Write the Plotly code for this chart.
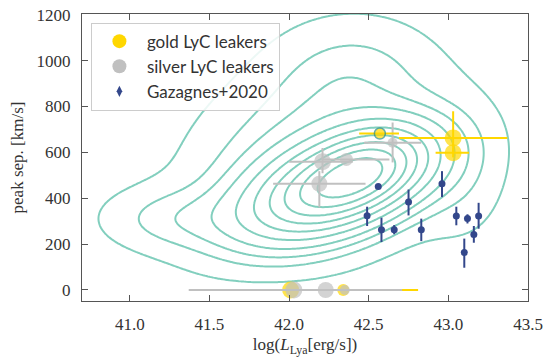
import numpy as np
import plotly.graph_objects as go

# ---------------- data ----------------
# Gazagnes+2020 sample
gz_x = [42.56, 42.49, 42.58, 42.66, 42.75, 42.83, 42.96, 43.05, 43.12, 43.19, 43.16, 43.10]
gz_y = [451, 324, 263, 263, 383, 263, 463, 322, 312, 322, 242, 163]
gz_ey_hi = [8, 39, 52, 20, 55, 48, 55, 41, 18, 58, 37, 61]
gz_ey_lo = [8, 45, 54, 20, 58, 50, 58, 40, 22, 55, 36, 66]

# gold LyC leakers
gold_x = [42.01, 42.34, 43.03, 43.03, 42.57]
gold_y = [0, 0, 663, 598, 682]
gold_ex_lo = [0.30, 0.0, 0.34, 0.11, 0.13]
gold_ex_hi = [0.80, 0.0, 0.34, 0.10, 0.12]
gold_ey_hi = [0, 0, 116, 20, 0]
gold_ey_lo = [0, 0, 60, 20, 0]
gold_size = [17, 12, 17, 17, 11]

# silver LyC leakers
silver_x = [42.21, 42.36, 42.19, 42.65, 42.03, 42.23, 42.35]
silver_y = [559, 569, 463, 642, 0, 0, 0]
silver_ex_lo = [0.21, 0.15, 0.29, 0.18, 0.66, 0.10, 0.0]
silver_ex_hi = [0.19, 0.27, 0.29, 0.18, 0.68, 0.10, 0.0]
silver_ey_hi = [60, 0, 55, 88, 0, 0, 0]
silver_ey_lo = [50, 0, 103, 86, 0, 0, 0]
silver_size = [17, 13, 16, 10, 17, 16, 10]

# background density (mixture description of the simulated distribution)
kde_cx = [42.28, 42.55, 42.15, 41.25, 42.40, 43.10]
kde_cy = [440, 560, 570, 310, 960, 500]
kde_sx = [0.38, 0.25, 0.50, 0.30, 0.33, 0.20]
kde_sy = [150, 120, 280, 95, 160, 220]
kde_rho = [0.45, 0.30, 0.25, 0.0, 0.0, 0.0]
kde_w = [0.45, 0.12, 0.30, 0.035, 0.05, 0.03]
kde_floor = -10     # km/s, lower boundary of the distribution
kde_floor_w = 30
kde_props = list(np.round(np.linspace(0.05, 1.0, 11)[:-1], 3))

TEAL = "#82cfbe"
GOLD = "#ffd700"
SILVER = "#c0c0c0"
NAVY = "#33478b"

gx = np.linspace(40.3, 43.9, 240)
gy = np.linspace(-300, 1500, 240)
X, Y = np.meshgrid(gx, gy)
Z = np.zeros_like(X)
for cx, cy, sx, sy, r, w in zip(kde_cx, kde_cy, kde_sx, kde_sy, kde_rho, kde_w):
    dx = (X - cx) / sx
    dy = (Y - cy) / sy
    q = (dx ** 2 - 2 * r * dx * dy + dy ** 2) / (1 - r ** 2)
    Z += w / (sx * sy * np.sqrt(1 - r ** 2)) * np.exp(-0.5 * q)
Z *= 1.0 / (1.0 + np.exp(-(Y - kde_floor) / kde_floor_w))

vals = np.sort(Z.ravel())[::-1]
cum = np.cumsum(vals) / vals.sum()
levels = [vals[min(np.searchsorted(cum, 1 - p), len(vals) - 1)] for p in kde_props]

fig = go.Figure()
for L in levels:
    fig.add_trace(go.Contour(
        x=gx, y=gy, z=Z, autocontour=False,
        contours=dict(start=L, end=L, size=L, coloring="lines"),
        colorscale=[[0, TEAL], [1, TEAL]], showscale=False,
        line=dict(width=2, smoothing=1.0), hoverinfo="skip", showlegend=False))

# gold at y=0 (behind silver)
fig.add_trace(go.Scatter(
    x=gold_x[:2], y=gold_y[:2], mode="markers", showlegend=False,
    marker=dict(color=GOLD, size=gold_size[:2], line=dict(width=0)),
    error_x=dict(type="data", symmetric=False, array=gold_ex_hi[:2], arrayminus=gold_ex_lo[:2],
                 color=GOLD, thickness=2, width=0)))

# silver
fig.add_trace(go.Scatter(
    x=silver_x, y=silver_y, mode="markers", showlegend=False,
    marker=dict(color=SILVER, size=silver_size, line=dict(width=0)),
    error_x=dict(type="data", symmetric=False, array=silver_ex_hi, arrayminus=silver_ex_lo,
                 color=SILVER, thickness=2, width=0),
    error_y=dict(type="data", symmetric=False, array=silver_ey_hi, arrayminus=silver_ey_lo,
                 color=SILVER, thickness=2, width=0)))

# gold upper
fig.add_trace(go.Scatter(
    x=gold_x[2:4], y=gold_y[2:4], mode="markers", showlegend=False,
    marker=dict(color=GOLD, size=gold_size[2:4], line=dict(width=0)),
    error_x=dict(type="data", symmetric=False, array=gold_ex_hi[2:4], arrayminus=gold_ex_lo[2:4],
                 color=GOLD, thickness=2, width=0),
    error_y=dict(type="data", symmetric=False, array=gold_ey_hi[2:4], arrayminus=gold_ey_lo[2:4],
                 color=GOLD, thickness=2, width=0)))
fig.add_trace(go.Scatter(
    x=gold_x[4:], y=gold_y[4:], mode="markers", showlegend=False,
    marker=dict(color=GOLD, size=gold_size[4:], line=dict(width=1.5, color="#2a8c80")),
    error_x=dict(type="data", symmetric=False, array=gold_ex_hi[4:], arrayminus=gold_ex_lo[4:],
                 color=GOLD, thickness=2, width=0)))

# Gazagnes
fig.add_trace(go.Scatter(
    x=gz_x, y=gz_y, mode="markers", showlegend=False,
    marker=dict(color=NAVY, size=7, line=dict(width=0)),
    error_y=dict(type="data", symmetric=False, array=gz_ey_hi, arrayminus=gz_ey_lo,
                 color=NAVY, thickness=2, width=0)))

# legend entries
fig.add_trace(go.Scatter(x=[None], y=[None], mode="markers", name="gold LyC leakers",
                         marker=dict(color=GOLD, size=14)))
fig.add_trace(go.Scatter(x=[None], y=[None], mode="markers", name="silver LyC leakers",
                         marker=dict(color=SILVER, size=14)))
fig.add_trace(go.Scatter(x=[None], y=[None], mode="markers", name="Gazagnes+2020",
                         marker=dict(color=NAVY, size=8, symbol="diamond-tall")))

axis_common = dict(showline=True, linecolor="#555555", linewidth=1.3, mirror="ticks",
                   ticks="inside", ticklen=6, tickwidth=1, tickcolor="#555555",
                   showgrid=False, zeroline=False, ticklabelstandoff=7, automargin=False,
                   tickfont=dict(family="Liberation Serif", size=17, color="#333333"))

fig.update_layout(
    width=547, height=357,
    margin=dict(l=82, r=19, t=14, b=56),
    plot_bgcolor="white", paper_bgcolor="white",
    xaxis=dict(range=[40.7, 43.5], tickvals=[41.0, 41.5, 42.0, 42.5, 43.0, 43.5],
               ticktext=["41.0", "41.5", "42.0", "42.5", "43.0", "43.5"],
               title=dict(text="log(<i>L</i><sub>Lya</sub>[erg/s])", standoff=6,
                          font=dict(family="Liberation Serif", size=17, color="#333333")),
               **axis_common),
    yaxis=dict(range=[-48, 1203], tickvals=[0, 200, 400, 600, 800, 1000, 1200],
               title=dict(text="peak sep. [km/s]", standoff=8,
                          font=dict(family="Liberation Serif", size=17, color="#333333")),
               **axis_common),
    legend=dict(x=0.02, y=0.97, xanchor="left", yanchor="top",
                bgcolor="rgba(255,255,255,0.85)", bordercolor="#cccccc", borderwidth=1,
                font=dict(family="Lato", size=17, color="#333333"),
                traceorder="normal", itemwidth=45),
    showlegend=True,
)

fig.write_html("out.html")
